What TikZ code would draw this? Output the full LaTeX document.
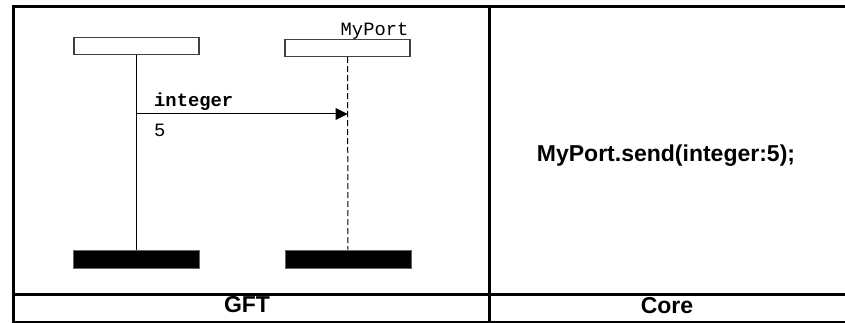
\documentclass[tikz,border=0pt]{standalone}
\usepackage{fontspec}
\setmainfont{Liberation Sans}
\setmonofont{Liberation Mono}
\usetikzlibrary{positioning, arrows.meta, calc}

\begin{document}
\begin{tikzpicture}[x=1pt, y=-1pt,
    inst/.style={draw=black!75, line width=1.2pt, minimum width=125pt,
                 minimum height=17pt, inner sep=0pt},
    endbar/.style={fill=black, draw=black!60, line width=0.8pt,
                   minimum width=126pt, minimum height=18pt, inner sep=0pt},
    monotxt/.style={font=\fontsize{18.8}{20}\selectfont\ttfamily, inner sep=0pt},
    celltxt/.style={font=\fontsize{23}{26}\selectfont\bfseries, inner sep=0pt}]
  \useasboundingbox (0,0) rectangle (845,323);

  % table frame
  \draw[line width=3pt] (12,7) -- (845,7);
  \draw[line width=3pt] (13.5,5.5) -- (13.5,323);
  \draw[line width=3pt] (489,7) -- (489,323);
  \draw[line width=3pt] (12,294) -- (845,294);
  \draw[line width=1.5pt] (12,322) -- (845,322);

  % instances
  \node[inst] (ptc) at (136.5,46) {};
  \node[inst] (port) at (347.5,48) {};
  \node[endbar] (ptcend) at (136.5,259) {};
  \node[endbar] (portend) at (348,259) {};
  \node[monotxt, anchor=base east] (portname) at ($(port.north east)+(-2,-3)$) {MyPort};

  \draw[line width=1pt] (ptc) -- (ptcend);
  \draw[line width=1pt, dash pattern=on 6pt off 3pt] (port) -- (portend);

  % message
  \coordinate (msgy) at (0,114);
  \draw[line width=1pt, -{Triangle[length=12pt, width=12pt]}]
    (ptc.south |- msgy) -- (port.south |- msgy);
  \node[monotxt, font=\fontsize{18.8}{20}\selectfont\ttfamily\bfseries,
        anchor=base west] (msgtype) at (154,107) {integer};
  \node[monotxt, anchor=base west] (msgval) at (154,137) {5};

  % cell texts
  \node[celltxt, anchor=base] (coretext) at (666,161) {MyPort.send(integer:5);};
  \node[celltxt, anchor=base] (gftlabel) at (247,312) {GFT};
  \node[celltxt, anchor=base] (corelabel) at (667,313) {Core};
\end{tikzpicture}
\end{document}
